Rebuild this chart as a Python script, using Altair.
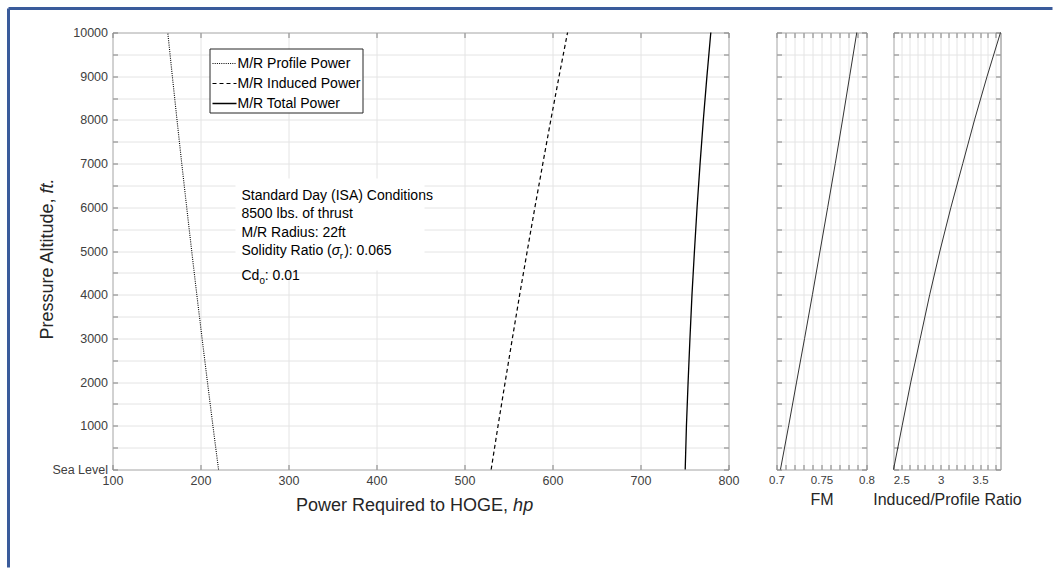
import altair as alt
import pandas as pd

# ---------------- data ----------------
ALTITUDE = [0, 1000, 2000, 3000, 4000, 5000, 6000, 7000, 8000, 9000, 10000]
PROFILE_HP = [220.5, 214.1, 207.9, 201.8, 195.8, 190.0, 184.3, 178.7, 173.3, 168.0, 162.8]
INDUCED_HP = [530.3, 538.1, 546.2, 554.4, 562.7, 571.3, 580.0, 589.0, 598.1, 607.5, 617.1]
TOTAL_HP = [750.8, 752.2, 754.1, 756.2, 758.5, 761.3, 764.3, 767.7, 771.4, 775.5, 779.9]
FM = [0.7044, 0.7135, 0.7223, 0.7312, 0.7399, 0.7484, 0.7569, 0.7653, 0.7734, 0.7813, 0.7892]
RATIO = [2.40, 2.51, 2.62, 2.74, 2.86, 2.99, 3.13, 3.28, 3.43, 3.59, 3.76]
SERIES = ["M/R Profile Power", "M/R Induced Power", "M/R Total Power"]
NOTES = ["Standard Day (ISA) Conditions", "8500 lbs. of thrust", "M/R Radius: 22ft"]

Y_TICKS = list(range(0, 10001, 500))
X_TICKS = list(range(100, 801, 100))
FM_TICKS = [round(0.70 + 0.01 * i, 2) for i in range(11)]
R_TICKS = [round(2.4 + 0.1 * i, 1) for i in range(14)]

# ---------------- style ----------------
FONT = "Liberation Sans"
FRAME = "#808080"
GRID = "#e4e4e4"
LABEL = "#404040"
BORDER = "#3a5b9b"
W_MAIN, W_FM, W_R, H = 616, 90, 107, 437
TITLE_FS = 16
MAIN_TITLE_FS = 18
NOTE_FS = 14

long = pd.DataFrame({
    "alt": ALTITUDE * 3,
    "power": PROFILE_HP + INDUCED_HP + TOTAL_HP,
    "series": [s for s in SERIES for _ in ALTITUDE],
})
fm_df = pd.DataFrame({"alt": ALTITUDE, "fm": FM})
r_df = pd.DataFrame({"alt": ALTITUDE, "ratio": RATIO})
ONE = pd.DataFrame({"k": [0]})


def ax(orient, values, labels=True, grid=False, label_expr=None, fmt=None,
       size=12.5, pad=5, title=None, title_pad=None):
    kw = dict(orient=orient, values=values, labels=labels, grid=grid, domain=False,
              ticks=True, tickSize=5, offset=-5, tickColor=FRAME, tickWidth=1,
              labelFont=FONT, labelFontSize=size, labelColor=LABEL, labelPadding=pad,
              labelOverlap=False, labelFlush=False, gridColor=GRID, gridWidth=1)
    if title is not None:
        kw.update(title=title, titleFont=FONT, titleFontSize=TITLE_FS,
                  titleColor="#262626", titleFontWeight="normal")
        if title_pad is not None:
            kw["titlePadding"] = title_pad
    else:
        kw["title"] = None
    if label_expr:
        kw["labelExpr"] = label_expr
    if fmt:
        kw["format"] = fmt
    return alt.Axis(**kw)


def txt(s, x, y, size, align="left", italic=False, angle=None, baseline="middle", color="black"):
    kw = dict(text=s, align=align, baseline=baseline, fontSize=size, font=FONT, color=color)
    if italic:
        kw["fontStyle"] = "italic"
    if angle is not None:
        kw["angle"] = angle
    return alt.Chart(ONE).mark_text(**kw).encode(x=alt.value(x), y=alt.value(y))


ys = alt.Scale(domain=[0, 10000], nice=False, zero=False)
y_left_main = ax("left", Y_TICKS, grid=True,
                 label_expr="datum.value == 0 ? 'Sea Level' : (datum.value % 1000 == 0 ? format(datum.value, 'd') : '')")
y_right = ax("right", Y_TICKS, labels=False)
y_left_panel = ax("left", Y_TICKS, labels=False, grid=True)

# ---------------- main panel ----------------
xs_main = alt.Scale(domain=[100, 800], nice=False, zero=False)
legend = alt.Legend(title=None, orient="none", legendX=97, legendY=16, fillColor="white",
                    strokeColor="#262626", padding=2, symbolType="stroke", symbolSize=576,
                    symbolStrokeColor="black", labelFont=FONT, labelFontSize=14,
                    labelColor="black", labelOffset=0, rowPadding=-11.5)

lines = alt.Chart(long).mark_line(color="black").encode(
    x=alt.X("power:Q", scale=xs_main, axis=ax("bottom", X_TICKS, grid=True, pad=5, fmt="d")),
    y=alt.Y("alt:Q", scale=ys, axis=y_left_main),
    order="alt:Q",
    strokeDash=alt.StrokeDash("series:N", scale=alt.Scale(domain=SERIES, range=[[1, 1.2], [4, 3], [1, 0]]),
                              legend=legend),
    strokeWidth=alt.StrokeWidth("series:N", scale=alt.Scale(domain=SERIES, range=[1.1, 1.3, 2]),
                                legend=legend),
)
axes2 = alt.Chart(long).mark_point(opacity=0).encode(
    x=alt.X("power:Q", scale=xs_main, axis=ax("top", X_TICKS, labels=False)),
    y=alt.Y("alt:Q", scale=ys, axis=y_right),
)

# white box behind the note text
note_box = alt.Chart(ONE).mark_rect(fill="white").encode(
    x=alt.value(123), x2=alt.value(312), y=alt.value(146), y2=alt.value(238))

NX = 129  # text left edge (relative to plot area)
note_layers = [txt(s, NX, y, NOTE_FS) for s, y in zip(NOTES, [163, 181, 200])]
# Solidity ratio line with sigma_r
w1 = 6.446 * NOTE_FS
w_sig = 0.58 * NOTE_FS
w_r = 0.333 * 0.7 * NOTE_FS
note_layers += [
    txt("Solidity Ratio (", NX, 218, NOTE_FS),
    txt("σ", NX + w1, 218, NOTE_FS, italic=True),
    txt("r", NX + w1 + w_sig, 223, NOTE_FS * 0.7),
    txt("): 0.065", NX + w1 + w_sig + w_r + 1, 218, NOTE_FS),
]
w_cd = 1.278 * NOTE_FS
w_0 = 0.556 * 0.7 * NOTE_FS
note_layers += [
    txt("Cd", NX, 243, NOTE_FS),
    txt("0", NX + w_cd, 248, NOTE_FS * 0.7),
    txt(": 0.01", NX + w_cd + w_0, 243, NOTE_FS),
]

# axis titles with italic units (gap of one space between the parts)
SP = 0.278 * MAIN_TITLE_FS
xt_anchor = 303 - 112 + 11.78 * MAIN_TITLE_FS * 0.965
yt_anchor = 335 - 32 - 7.89 * MAIN_TITLE_FS * 0.965
titles = [
    txt("Power Required to HOGE,", xt_anchor, 473, MAIN_TITLE_FS, align="right", color="#262626"),
    txt("hp", xt_anchor + SP, 473, MAIN_TITLE_FS, align="left", italic=True, color="#262626"),
    txt("Pressure Altitude,", -65, yt_anchor, MAIN_TITLE_FS, align="right", angle=270, color="#262626"),
    txt("ft.", -65, yt_anchor - SP, MAIN_TITLE_FS, align="left", angle=270, italic=True, color="#262626"),
]

# page frame (blue border)
border = [
    alt.Chart(ONE).mark_rule(color=BORDER, strokeWidth=3).encode(
        x=alt.value(-104), y=alt.value(-24), y2=alt.value(535)),
    alt.Chart(ONE).mark_rule(color=BORDER, strokeWidth=3).encode(
        x=alt.value(-104), x2=alt.value(940), y=alt.value(-24)),
]

main = alt.layer(lines, axes2, note_box, *note_layers, *titles, *border).resolve_axis(
    x="independent", y="independent").properties(width=W_MAIN, height=H)

# ---------------- FM panel ----------------
xs_fm = alt.Scale(domain=[0.7, 0.8], nice=False, zero=False)
fm_expr = "round(datum.value * 100) % 5 == 0 ? format(datum.value, '~g') : ''"
fm_line = alt.Chart(fm_df).mark_line(color="#333333", strokeWidth=1).encode(
    x=alt.X("fm:Q", scale=xs_fm, axis=ax("bottom", FM_TICKS, grid=True, size=11.5, pad=5,
                                           label_expr=fm_expr, title="FM", title_pad=5)),
    y=alt.Y("alt:Q", scale=ys, axis=y_left_panel),
    order="alt:Q",
)
fm_axes = alt.Chart(fm_df).mark_point(opacity=0).encode(
    x=alt.X("fm:Q", scale=xs_fm, axis=ax("top", FM_TICKS, labels=False)),
    y=alt.Y("alt:Q", scale=ys, axis=y_right),
)
fm_panel = alt.layer(fm_line, fm_axes).resolve_axis(
    x="independent", y="independent").properties(width=W_FM, height=H)

# ---------------- Induced/Profile ratio panel ----------------
xs_r = alt.Scale(domain=[2.4, 3.76], nice=False, zero=False)
r_expr = "round(datum.value * 10) % 5 == 0 ? format(datum.value, '~g') : ''"
r_line = alt.Chart(r_df).mark_line(color="#333333", strokeWidth=1).encode(
    x=alt.X("ratio:Q", scale=xs_r, axis=ax("bottom", R_TICKS, grid=True, size=11.5, pad=5,
                                             label_expr=r_expr, title="Induced/Profile Ratio",
                                             title_pad=5)),
    y=alt.Y("alt:Q", scale=ys, axis=y_left_panel),
    order="alt:Q",
)
r_axes = alt.Chart(r_df).mark_point(opacity=0).encode(
    x=alt.X("ratio:Q", scale=xs_r, axis=ax("top", R_TICKS, labels=False)),
    y=alt.Y("alt:Q", scale=ys, axis=y_right),
)
r_panel = alt.layer(r_line, r_axes).resolve_axis(
    x="independent", y="independent").properties(width=W_R, height=H)

right = alt.hconcat(fm_panel, r_panel, spacing=27, bounds="flush")
chart = alt.hconcat(main, right, spacing=48, bounds="flush").properties(
    padding={"left": 6.5, "top": 6.5, "right": 0, "bottom": 0},
    background="white",
).configure_view(stroke=FRAME, strokeWidth=1)

chart.save("out.html", embed_options={"renderer": "svg", "actions": False})
